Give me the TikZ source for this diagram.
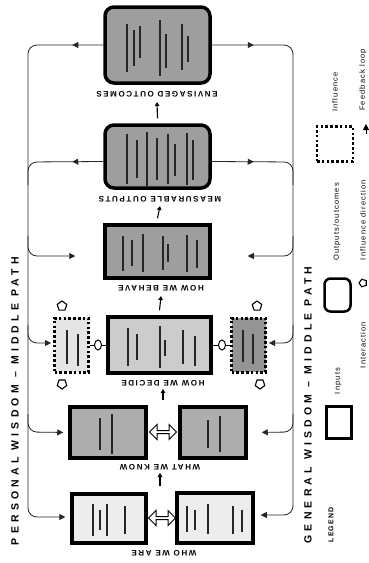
\documentclass[tikz,border=0pt]{standalone}
\usepackage{fontspec}
\setmainfont{Liberation Sans}
\newfontfamily\sidefont[LetterSpace=40]{Liberation Sans}
\newfontfamily\labfont[LetterSpace=20]{Liberation Sans}
\newfontfamily\legfont[LetterSpace=15]{Liberation Sans}
\usetikzlibrary{arrows.meta,decorations.markings,shapes.arrows,shapes.geometric,calc}
\begin{document}
\begin{tikzpicture}[x=1pt,y=-1pt,
  box/.style={draw=black, line width=3.5pt, fill=#1, inner sep=0pt},
  infl/.style={draw=black, line width=3pt, dash pattern=on 2.6pt off 2.2pt, fill=#1, inner sep=0pt},
  lab/.style={rotate=180, inner sep=0pt, font=\labfont\bfseries\fontsize{8}{8}\selectfont},
  side/.style={rotate=90, inner sep=0pt, font=\sidefont\bfseries\fontsize{10.5}{10.5}\selectfont},
  legtext/.style={rotate=90, inner sep=0pt, font=\legfont\fontsize{7.5}{7.5}\selectfont},
  fb/.style={draw=black!85, line width=0.8pt, rounded corners=9pt},
  tipend/.style={-{Triangle[length=6pt,width=6pt]}},
  midarrow/.style={postaction={decorate},decoration={markings,mark=at position #1 with {\arrow{Triangle[length=6pt,width=6pt]}}}},
  txtbar/.style={draw=black!85, line width=2.8pt},
  upar/.style={draw=black, line width=1.1pt, -{Triangle[length=4pt,width=4.5pt]}},
  oval/.style={draw=black, ellipse, line width=1pt, fill=white, minimum width=7pt, minimum height=10pt, inner sep=0pt},
  house/.style={draw=black, regular polygon, regular polygon sides=5, line width=1.1pt, minimum size=10pt, inner sep=0pt, fill=white},
  dblarr/.style={draw=black, double arrow, line width=1pt, fill=white, minimum height=27pt, minimum width=15pt, double arrow head extend=2pt, inner sep=0pt}
]
\useasboundingbox (0,0) rectangle (368,563);
\fill[white] (0,0) rectangle (368,563);

% ---------- main boxes ----------
\node[box=black!38, rounded corners=9pt, minimum width=105pt, minimum height=76pt] (env) at (157.5,45) {};
\node[box=black!38, rounded corners=9pt, minimum width=105pt, minimum height=63pt] (meas) at (157.5,156.5) {};
\node[box=black!38, minimum width=105pt, minimum height=53pt] (beh) at (157.5,251.5) {};
\node[box=black!20, minimum width=103pt, minimum height=56pt] (dec) at (159.5,345) {};
\node[infl=black!10, minimum width=34pt, minimum height=54pt] (inflL) at (71.5,345) {};
\node[infl=black!42, minimum width=34pt, minimum height=54pt] (inflR) at (248.5,345) {};
\node[box=black!32, minimum width=76pt, minimum height=51pt] (knowL) at (108,432.5) {};
\node[box=black!32, minimum width=66pt, minimum height=51pt] (knowR) at (213,432.5) {};
\node[box=black!7, minimum width=74pt, minimum height=49pt] (whoL) at (109,518.5) {};
\node[box=black!7, minimum width=76pt, minimum height=50pt] (whoR) at (215,518) {};

% ---------- illegible inner text, drawn as dark strokes ----------
\foreach \x/\a/\b in {127/24/72,134/30/66,140/26/58,160/20/76,166/34/68,182/24/70,188/36/62}
  \draw[txtbar] (\x,\a) -- (\x,\b);
\foreach \x/\a/\b in {127/134/184,137/140/178,147/132/186,157/138/180,168/134/184,175/144/176,187/133/185,193/140/180}
  \draw[txtbar] (\x,\a) -- (\x,\b);
\foreach \x/\a/\b in {123/236/271,132/240/266,143/234/272,163/236/270,168/244/262,187/235/272,197/240/268}
  \draw[txtbar] (\x,\a) -- (\x,\b);
\foreach \x/\a/\b in {128/328/366,137/334/360,160/326/368,165/340/356,183/330/364,195/336/366}
  \draw[txtbar] (\x,\a) -- (\x,\b);
\foreach \x/\a/\b in {67/330/364,78/334/366,243/330/362,253/334/364}
  \draw[txtbar] (\x,\a) -- (\x,\b);
\foreach \x/\a/\b in {100/418/450,112/414/454,208/420/448,220/416/452}
  \draw[txtbar] (\x,\a) -- (\x,\b);
\foreach \x/\a/\b in {93/504/536,100/510/530,107/504/536,125/506/534,187/506/532,195/510/530,208/504/534,233/506/534,242/510/532}
  \draw[txtbar] (\x,\a) -- (\x,\b);

% ---------- labels (printed upside down) ----------
\node[lab] (envlab) at (157,94) {ENVISAGED OUTCOMES};
\node[lab] (measlab) at (160,199) {MEASURABLE OUTPUTS};
\node[lab] (behlab) at (161,288) {HOW WE BEHAVE};
\node[lab] (declab) at (163,383) {HOW WE DECIDE};
\node[lab] (knowlab) at (160,467) {WHAT WE KNOW};
\node[lab] (wholab) at (164,553) {WHO WE ARE};

% ---------- upward flow arrows ----------
\draw[upar] ([yshift=5pt]meas.north) -- ([yshift=-8pt]envlab.center);
\draw[upar] ([yshift=5pt]beh.north) -- ([yshift=-7pt]measlab.center);
\draw[upar] ([yshift=5pt]dec.north) -- ([yshift=-8pt]behlab.center);
\draw[upar] ([yshift=5pt]knowL.north -| declab) -- ([yshift=-6pt]declab.center);
\draw[upar] ([yshift=6pt]whoL.north -| knowlab) -- ([yshift=-6pt]knowlab.center);

% ---------- influence links ----------
\draw[line width=1pt] (inflL.east) -- (dec.west);
\draw[line width=1pt] (dec.east) -- (inflR.west);
\node[oval] (ovL) at (98,345) {};
\node[oval] (ovR) at (222,345) {};
\node[house] (hLt) at (62,306) {};
\node[house, rotate=180] (hLb) at (62,384) {};
\node[house] (hRt) at (257,306) {};
\node[house, rotate=180] (hRb) at (260,384) {};

% ---------- interaction arrows ----------
\node[dblarr] (dK) at (163,432) {};
\node[dblarr] (dW) at (162,518) {};

% ---------- left loop: personal wisdom ----------
\coordinate (Ltop) at (28,45);
\coordinate (Lbot) at (28,517);
\draw[fb, tipend, shorten >=5pt, midarrow=31pt] (env.west) -- (Ltop) -- (Lbot) -- (whoL.west |- Lbot);
\draw[fb, midarrow=31pt] ($(meas.west)+(0,5)$) -- (28,162) -- (28,185);
\draw[fb, tipend, shorten >=28pt] (28,236) -- (28,256) -- (beh.west |- 0,256);
\draw[fb, tipend, shorten >=2pt] (28,325) -- (28,343) -- (inflL.west |- 0,343);
\draw[fb, tipend, shorten >=5pt] (28,414) -- (28,432) -- (knowL.west);

% ---------- right loop: general wisdom ----------
\coordinate (Rtop) at (293,45);
\coordinate (Rbot) at (293,515);
\draw[fb, tipend, shorten >=6pt, midarrow=42pt] (env.east) -- (Rtop) -- (Rbot) -- (whoR.east |- Rbot);
\draw[fb, midarrow=42pt] ($(meas.east)+(0,5)$) -- (293,162) -- (293,185);
\draw[fb, tipend, shorten >=36pt] (293,236) -- (293,256) -- (beh.east |- 0,256);
\draw[fb, tipend, shorten >=2pt] (293,325) -- (293,343) -- (inflR.east |- 0,343);
\draw[fb, tipend, shorten >=14pt] (293,414) -- (293,432) -- (knowR.east);

% ---------- side titles ----------
\node[side] (pw) at (15,401) {PERSONAL WISDOM – MIDDLE PATH};
\node[side] (gw) at (308,405) {GENERAL WISDOM – MIDDLE PATH};

% ---------- legend ----------
\node[legtext, font=\legfont\bfseries\fontsize{7}{7}\selectfont] (legT) at (331,525) {LEGEND};
\node[draw=black, line width=2.5pt, minimum width=25pt, minimum height=32pt, inner sep=0pt] (legIn) at (339,422.5) {};
\node[legtext] (legInT) at (338,381) {Inputs};
\node[draw=black, line width=2.5pt, rounded corners=6pt, minimum width=26pt, minimum height=33pt, inner sep=0pt] (legOut) at (337.5,295) {};
\node[legtext] (legOutT) at (337,222) {Outputs/outcomes};
\node[infl=white, line width=2.5pt, minimum width=36pt, minimum height=35pt] (legInf) at (335,144) {};
\node[legtext] (legInfT) at (335,92) {Influence};
\node[legtext] (legFbT) at (363,80) {Feedback loop};
\coordinate (fbA) at (366,134);
\coordinate (fbB) at (366,124);
\draw[line width=0.8pt, tipend] (fbA) -- (fbB);
\node[legtext] (legDirT) at (363,220) {Influence direction};
\node[house, minimum size=8pt, rotate=90] (legH) at (363,283) {};
\node[legtext] (legIxT) at (363,345) {Interaction};
\end{tikzpicture}
\end{document}
